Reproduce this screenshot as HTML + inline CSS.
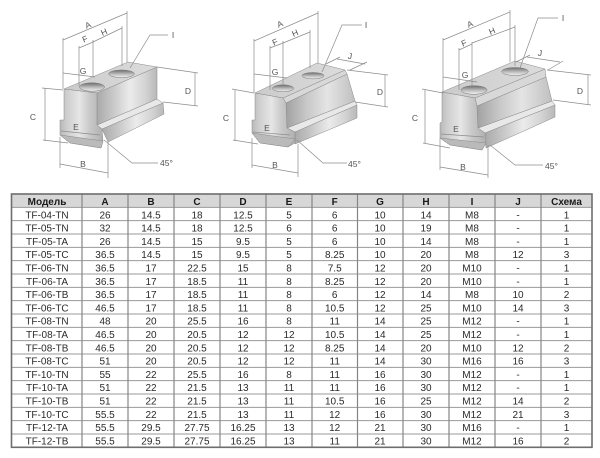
<!DOCTYPE html>
<html><head><meta charset="utf-8"><style>
html,body{margin:0;padding:0;background:#fff;}
svg{display:block;}
.d line,.d polyline{stroke:#8c8c8c;stroke-width:0.7;fill:none;}
.lb{font-family:"Liberation Sans",sans-serif;font-size:8.5px;fill:#555;}
.tt{font-family:"Liberation Sans","Noto Sans CJK SC",sans-serif;font-size:10px;fill:#2a2a2a;text-anchor:middle;}
.th{font-weight:bold;fill:#1a1a1a;}
.blk polygon{stroke:#8a8a8a;stroke-width:0.5;}
</style></head><body>
<svg width="600" height="458" viewBox="0 0 600 458" xmlns="http://www.w3.org/2000/svg">
<defs>
<linearGradient id="gTop" x1="0" y1="0" x2="1" y2="0"><stop offset="0" stop-color="#cbcbcb"/><stop offset="1" stop-color="#dcdcdc"/></linearGradient>
<linearGradient id="gEnd" x1="0" y1="0" x2="1" y2="0"><stop offset="0" stop-color="#b8b8b8"/><stop offset="0.15" stop-color="#cdcdcd"/><stop offset="0.45" stop-color="#e6e6e6"/><stop offset="0.7" stop-color="#c8c8c8"/><stop offset="1" stop-color="#b0b0b0"/></linearGradient>
<linearGradient id="gSide" x1="0" y1="0" x2="1" y2="0"><stop offset="0" stop-color="#aaaaaa"/><stop offset="0.25" stop-color="#c6c6c6"/><stop offset="0.55" stop-color="#ebebeb"/><stop offset="0.8" stop-color="#d4d4d4"/><stop offset="1" stop-color="#b8b8b8"/></linearGradient>
<linearGradient id="gRec" x1="0" y1="0" x2="1" y2="0"><stop offset="0" stop-color="#a2a2a2"/><stop offset="0.3" stop-color="#c8c8c8"/><stop offset="0.6" stop-color="#e4e4e4"/><stop offset="1" stop-color="#c0c0c0"/></linearGradient>
<linearGradient id="gHole" x1="0" y1="0" x2="0" y2="1"><stop offset="0" stop-color="#6e6e6e"/><stop offset="0.55" stop-color="#bdbdbd"/><stop offset="1" stop-color="#f2f2f2"/></linearGradient>
</defs>

<!-- ===== Drawing 1 ===== -->
<g class="blk">
<polygon points="102,129 163,103 164,114 108,142" fill="url(#gSide)"/>
<polygon points="97,125 157,99 163,103 102,129" fill="#e8e8e8"/>
<polygon points="97,93 157,67 157,99 97,125" fill="url(#gSide)"/>
<polygon points="64,89 97,93 157,67 128,62" fill="url(#gTop)"/>
<polygon points="64,89 97,93 97,125 102,129 103,141 101,148 70,143 60,135 60,120 64,120" fill="url(#gEnd)"/>
<polygon points="60,135 103,141 101,148 70,143" fill="#bababa"/>
<ellipse cx="92" cy="87" rx="12.5" ry="4.2" fill="url(#gHole)" stroke="#777" stroke-width="0.5"/>
<ellipse cx="121.5" cy="73.8" rx="12.8" ry="3.8" fill="url(#gHole)" stroke="#777" stroke-width="0.5"/>
</g>
<g class="d">
<line x1="63" y1="40" x2="127" y2="13"/><line x1="63" y1="38" x2="63" y2="89"/><line x1="127" y1="11" x2="127" y2="62"/>
<line x1="93" y1="42" x2="122" y2="28"/><line x1="122" y1="26" x2="122" y2="66"/>
<line x1="79" y1="48" x2="93" y2="42"/><line x1="79" y1="46" x2="79" y2="86"/><line x1="93" y1="40" x2="93" y2="77"/>
<line x1="63" y1="73" x2="95" y2="77"/>
<polyline points="130,68 150,35 168,35"/>
<line x1="157" y1="67" x2="198" y2="73"/><line x1="163" y1="102" x2="198" y2="106"/><line x1="195" y1="73" x2="195" y2="106"/>
<line x1="45" y1="88" x2="45" y2="141"/><line x1="42" y1="88" x2="63" y2="90"/><line x1="43" y1="140" x2="68" y2="143"/>
<line x1="61" y1="131" x2="100" y2="135"/>
<line x1="60" y1="164" x2="108" y2="173"/><line x1="60" y1="137" x2="60" y2="168"/><line x1="108" y1="142" x2="108" y2="178"/>
<polyline points="104,140 132,163 158,163"/>
</g>
<g class="lb">
<text x="88" y="28" text-anchor="middle" transform="rotate(-23 88 25)">A</text>
<text x="104" y="35" text-anchor="middle" transform="rotate(-23 104 32)">H</text>
<text x="85" y="42" text-anchor="middle" transform="rotate(-23 85 39)">F</text>
<text x="83" y="74" text-anchor="middle">G</text>
<text x="173" y="38" text-anchor="middle">I</text>
<text x="188" y="94" text-anchor="middle">D</text>
<text x="33" y="120" text-anchor="middle">C</text>
<text x="76" y="130" text-anchor="middle">E</text>
<text x="83" y="167" text-anchor="middle">B</text>
<text x="160" y="166">45°</text>
</g>

<!-- ===== Drawing 2 ===== -->
<g class="blk">
<polygon points="295,132 357,105 357,118 295,144" fill="url(#gSide)"/>
<polygon points="287,128 355,101 357,105 295,132" fill="#e8e8e8"/>
<polygon points="286,103 347,74 355,101 287,128" fill="url(#gRec)"/>
<polygon points="283,98 345,70 347,74 286,103" fill="#d8d8d8"/>
<polygon points="255,93 283,98 345,70 317,63" fill="url(#gTop)"/>
<polygon points="255,93 283,98 286,103 287,128 295,132 295,143 288,147 260,143 252,133 252,120 255,120" fill="url(#gEnd)"/>
<polygon points="252,133 295,139 288,147 260,143" fill="#bababa"/>
<ellipse cx="283" cy="88.3" rx="10.5" ry="3.5" fill="url(#gHole)" stroke="#777" stroke-width="0.5"/>
<ellipse cx="313" cy="75.7" rx="11" ry="3.2" fill="url(#gHole)" stroke="#777" stroke-width="0.5"/>
</g>
<g class="d">
<line x1="254" y1="41" x2="318" y2="13"/><line x1="254" y1="39" x2="254" y2="93"/><line x1="318" y1="11" x2="318" y2="63"/>
<line x1="283" y1="43" x2="310" y2="32"/><line x1="310" y1="30" x2="310" y2="68"/>
<line x1="270" y1="48" x2="283" y2="43"/><line x1="270" y1="46" x2="270" y2="90"/><line x1="283" y1="41" x2="283" y2="85"/>
<line x1="254" y1="74" x2="287" y2="78"/>
<polyline points="322,72 342,25 362,25"/>
<line x1="337" y1="59" x2="365" y2="64"/><line x1="326" y1="64" x2="340" y2="57"/><line x1="350" y1="70" x2="367" y2="62"/>
<line x1="347" y1="70" x2="388" y2="75"/><line x1="355" y1="102" x2="388" y2="107"/><line x1="385" y1="75" x2="385" y2="107"/>
<line x1="235" y1="90" x2="235" y2="141"/><line x1="232" y1="89" x2="254" y2="93"/><line x1="233" y1="140" x2="258" y2="144"/>
<line x1="253" y1="132" x2="290" y2="135"/>
<line x1="252" y1="165" x2="298" y2="173"/><line x1="252" y1="138" x2="252" y2="168"/><line x1="298" y1="144" x2="298" y2="177"/>
<polyline points="297,140 323,163 347,163"/>
</g>
<g class="lb">
<text x="280" y="27" text-anchor="middle" transform="rotate(-23 280 24)">A</text>
<text x="295" y="36" text-anchor="middle" transform="rotate(-23 295 33)">H</text>
<text x="275" y="45" text-anchor="middle" transform="rotate(-23 275 42)">F</text>
<text x="275" y="75" text-anchor="middle">G</text>
<text x="366" y="28" text-anchor="middle">I</text>
<text x="350" y="59" text-anchor="middle" transform="rotate(8 350 56)">J</text>
<text x="380" y="95" text-anchor="middle">D</text>
<text x="226" y="121" text-anchor="middle">C</text>
<text x="267" y="131" text-anchor="middle">E</text>
<text x="275" y="168" text-anchor="middle">B</text>
<text x="348" y="167">45°</text>
</g>

<!-- ===== Drawing 3 ===== -->
<g class="blk">
<polygon points="485,133 555,105 555,117 486,148" fill="url(#gSide)"/>
<polygon points="478,128 552,101 555,105 485,133" fill="#e8e8e8"/>
<polygon points="477,106 546,77 552,101 478,128" fill="url(#gRec)"/>
<polygon points="475,98 545,69 546,77 477,106" fill="#d8d8d8"/>
<polygon points="442,92 475,98 545,69 515,61" fill="url(#gTop)"/>
<polygon points="442,92 475,98 477,106 478,128 485,133 486,143 482,150 450,145 440,138 440,123 442,122" fill="url(#gEnd)"/>
<polygon points="440,138 486,143 482,150 450,145" fill="#bababa"/>
<ellipse cx="474" cy="90" rx="13" ry="4.3" fill="url(#gHole)" stroke="#777" stroke-width="0.5"/>
<ellipse cx="515" cy="71.5" rx="13.3" ry="4" fill="url(#gHole)" stroke="#777" stroke-width="0.5"/>
</g>
<g class="d">
<line x1="443" y1="40" x2="510" y2="12"/><line x1="443" y1="38" x2="443" y2="92"/><line x1="510" y1="10" x2="510" y2="62"/>
<line x1="472" y1="43" x2="515" y2="27"/><line x1="515" y1="25" x2="515" y2="66"/>
<line x1="459" y1="50" x2="472" y2="44"/><line x1="459" y1="48" x2="459" y2="90"/><line x1="472" y1="42" x2="472" y2="86"/>
<line x1="443" y1="77" x2="477" y2="82"/>
<polyline points="520,68 538,18 558,18"/>
<line x1="527" y1="57" x2="560" y2="62"/><line x1="516" y1="62" x2="530" y2="55"/><line x1="548" y1="70" x2="563" y2="61"/>
<line x1="547" y1="70" x2="591" y2="75"/><line x1="553" y1="100" x2="591" y2="105"/><line x1="588" y1="75" x2="588" y2="105"/>
<line x1="425" y1="90" x2="425" y2="143"/><line x1="422" y1="89" x2="443" y2="93"/><line x1="423" y1="143" x2="450" y2="148"/>
<line x1="441" y1="134" x2="484" y2="137"/>
<line x1="440" y1="167" x2="488" y2="175"/><line x1="440" y1="138" x2="440" y2="170"/><line x1="488" y1="145" x2="488" y2="178"/>
<polyline points="490,145 515,165 543,165"/>
</g>
<g class="lb">
<text x="470" y="27" text-anchor="middle" transform="rotate(-23 470 24)">A</text>
<text x="492" y="34" text-anchor="middle" transform="rotate(-23 492 31)">H</text>
<text x="464" y="46" text-anchor="middle" transform="rotate(-23 464 43)">F</text>
<text x="465" y="78" text-anchor="middle">G</text>
<text x="563" y="21" text-anchor="middle">I</text>
<text x="540" y="56" text-anchor="middle" transform="rotate(8 540 53)">J</text>
<text x="580" y="94" text-anchor="middle">D</text>
<text x="415" y="121" text-anchor="middle">C</text>
<text x="456" y="132" text-anchor="middle">E</text>
<text x="463" y="170" text-anchor="middle">B</text>
<text x="545" y="169">45°</text>
</g>

<!-- ===== Table ===== -->
<rect x="11.5" y="194" width="580.5" height="13.33" fill="#d7d7d7"/>
<g stroke="#9a9a9a" stroke-width="1">
<line x1="11.5" y1="207.33" x2="592" y2="207.33"/><line x1="11.5" y1="220.67" x2="592" y2="220.67"/>
<line x1="11.5" y1="234" x2="592" y2="234"/><line x1="11.5" y1="247.33" x2="592" y2="247.33"/>
<line x1="11.5" y1="260.67" x2="592" y2="260.67"/><line x1="11.5" y1="274" x2="592" y2="274"/>
<line x1="11.5" y1="287.33" x2="592" y2="287.33"/><line x1="11.5" y1="300.67" x2="592" y2="300.67"/>
<line x1="11.5" y1="314" x2="592" y2="314"/><line x1="11.5" y1="327.33" x2="592" y2="327.33"/>
<line x1="11.5" y1="340.67" x2="592" y2="340.67"/><line x1="11.5" y1="354" x2="592" y2="354"/>
<line x1="11.5" y1="367.33" x2="592" y2="367.33"/><line x1="11.5" y1="380.67" x2="592" y2="380.67"/>
<line x1="11.5" y1="394" x2="592" y2="394"/><line x1="11.5" y1="407.33" x2="592" y2="407.33"/>
<line x1="11.5" y1="420.67" x2="592" y2="420.67"/><line x1="11.5" y1="434" x2="592" y2="434"/>
</g>
<g stroke="#858585" stroke-width="1.2">
<line x1="82" y1="194" x2="82" y2="447.3"/><line x1="128" y1="194" x2="128" y2="447.3"/>
<line x1="174" y1="194" x2="174" y2="447.3"/><line x1="220" y1="194" x2="220" y2="447.3"/>
<line x1="266" y1="194" x2="266" y2="447.3"/><line x1="312" y1="194" x2="312" y2="447.3"/>
<line x1="357.5" y1="194" x2="357.5" y2="447.3"/><line x1="403" y1="194" x2="403" y2="447.3"/>
<line x1="449" y1="194" x2="449" y2="447.3"/><line x1="495" y1="194" x2="495" y2="447.3"/>
<line x1="541" y1="194" x2="541" y2="447.3"/>
</g>
<rect x="11.5" y="194" width="580.5" height="253.3" fill="none" stroke="#6e6e6e" stroke-width="1.6"/>

<g class="tt th" transform="translate(0,205)">
<text x="47">Модель</text><text x="105">A</text><text x="151">B</text><text x="197">C</text><text x="243">D</text><text x="289">E</text><text x="334.7">F</text><text x="380">G</text><text x="426">H</text><text x="472">I</text><text x="518">J</text><text x="566.5">Схема</text>
</g>
<g class="tt" transform="translate(0,218.3)"><text x="47">TF-04-TN</text><text x="105">26</text><text x="151">14.5</text><text x="197">18</text><text x="243">12.5</text><text x="289">5</text><text x="334.7">6</text><text x="380">10</text><text x="426">14</text><text x="472">M8</text><text x="518">-</text><text x="566.5">1</text></g>
<g class="tt" transform="translate(0,231.6)"><text x="47">TF-05-TN</text><text x="105">32</text><text x="151">14.5</text><text x="197">18</text><text x="243">12.5</text><text x="289">6</text><text x="334.7">6</text><text x="380">10</text><text x="426">19</text><text x="472">M8</text><text x="518">-</text><text x="566.5">1</text></g>
<g class="tt" transform="translate(0,244.9)"><text x="47">TF-05-TA</text><text x="105">26</text><text x="151">14.5</text><text x="197">15</text><text x="243">9.5</text><text x="289">5</text><text x="334.7">6</text><text x="380">10</text><text x="426">14</text><text x="472">M8</text><text x="518">-</text><text x="566.5">1</text></g>
<g class="tt" transform="translate(0,258.2)"><text x="47">TF-05-TC</text><text x="105">36.5</text><text x="151">14.5</text><text x="197">15</text><text x="243">9.5</text><text x="289">5</text><text x="334.7">8.25</text><text x="380">10</text><text x="426">20</text><text x="472">M8</text><text x="518">12</text><text x="566.5">3</text></g>
<g class="tt" transform="translate(0,271.5)"><text x="47">TF-06-TN</text><text x="105">36.5</text><text x="151">17</text><text x="197">22.5</text><text x="243">15</text><text x="289">8</text><text x="334.7">7.5</text><text x="380">12</text><text x="426">20</text><text x="472">M10</text><text x="518">-</text><text x="566.5">1</text></g>
<g class="tt" transform="translate(0,284.8)"><text x="47">TF-06-TA</text><text x="105">36.5</text><text x="151">17</text><text x="197">18.5</text><text x="243">11</text><text x="289">8</text><text x="334.7">8.25</text><text x="380">12</text><text x="426">20</text><text x="472">M10</text><text x="518">-</text><text x="566.5">1</text></g>
<g class="tt" transform="translate(0,298.1)"><text x="47">TF-06-TB</text><text x="105">36.5</text><text x="151">17</text><text x="197">18.5</text><text x="243">11</text><text x="289">8</text><text x="334.7">6</text><text x="380">12</text><text x="426">14</text><text x="472">M8</text><text x="518">10</text><text x="566.5">2</text></g>
<g class="tt" transform="translate(0,311.4)"><text x="47">TF-06-TC</text><text x="105">46.5</text><text x="151">17</text><text x="197">18.5</text><text x="243">11</text><text x="289">8</text><text x="334.7">10.5</text><text x="380">12</text><text x="426">25</text><text x="472">M10</text><text x="518">14</text><text x="566.5">3</text></g>
<g class="tt" transform="translate(0,324.7)"><text x="47">TF-08-TN</text><text x="105">48</text><text x="151">20</text><text x="197">25.5</text><text x="243">16</text><text x="289">8</text><text x="334.7">11</text><text x="380">14</text><text x="426">25</text><text x="472">M12</text><text x="518">-</text><text x="566.5">1</text></g>
<g class="tt" transform="translate(0,338)"><text x="47">TF-08-TA</text><text x="105">46.5</text><text x="151">20</text><text x="197">20.5</text><text x="243">12</text><text x="289">12</text><text x="334.7">10.5</text><text x="380">14</text><text x="426">25</text><text x="472">M12</text><text x="518">-</text><text x="566.5">1</text></g>
<g class="tt" transform="translate(0,351.3)"><text x="47">TF-08-TB</text><text x="105">46.5</text><text x="151">20</text><text x="197">20.5</text><text x="243">12</text><text x="289">12</text><text x="334.7">8.25</text><text x="380">14</text><text x="426">20</text><text x="472">M10</text><text x="518">12</text><text x="566.5">2</text></g>
<g class="tt" transform="translate(0,364.6)"><text x="47">TF-08-TC</text><text x="105">51</text><text x="151">20</text><text x="197">20.5</text><text x="243">12</text><text x="289">12</text><text x="334.7">11</text><text x="380">14</text><text x="426">30</text><text x="472">M16</text><text x="518">16</text><text x="566.5">3</text></g>
<g class="tt" transform="translate(0,377.9)"><text x="47">TF-10-TN</text><text x="105">55</text><text x="151">22</text><text x="197">25.5</text><text x="243">16</text><text x="289">8</text><text x="334.7">11</text><text x="380">16</text><text x="426">30</text><text x="472">M12</text><text x="518">-</text><text x="566.5">1</text></g>
<g class="tt" transform="translate(0,391.2)"><text x="47">TF-10-TA</text><text x="105">51</text><text x="151">22</text><text x="197">21.5</text><text x="243">13</text><text x="289">11</text><text x="334.7">11</text><text x="380">16</text><text x="426">30</text><text x="472">M12</text><text x="518">-</text><text x="566.5">1</text></g>
<g class="tt" transform="translate(0,404.5)"><text x="47">TF-10-TB</text><text x="105">51</text><text x="151">22</text><text x="197">21.5</text><text x="243">13</text><text x="289">11</text><text x="334.7">10.5</text><text x="380">16</text><text x="426">25</text><text x="472">M12</text><text x="518">14</text><text x="566.5">2</text></g>
<g class="tt" transform="translate(0,417.8)"><text x="47">TF-10-TC</text><text x="105">55.5</text><text x="151">22</text><text x="197">21.5</text><text x="243">13</text><text x="289">11</text><text x="334.7">12</text><text x="380">16</text><text x="426">30</text><text x="472">M12</text><text x="518">21</text><text x="566.5">3</text></g>
<g class="tt" transform="translate(0,431.1)"><text x="47">TF-12-TA</text><text x="105">55.5</text><text x="151">29.5</text><text x="197">27.75</text><text x="243">16.25</text><text x="289">13</text><text x="334.7">12</text><text x="380">21</text><text x="426">30</text><text x="472">M16</text><text x="518">-</text><text x="566.5">1</text></g>
<g class="tt" transform="translate(0,444.4)"><text x="47">TF-12-TB</text><text x="105">55.5</text><text x="151">29.5</text><text x="197">27.75</text><text x="243">16.25</text><text x="289">13</text><text x="334.7">11</text><text x="380">21</text><text x="426">30</text><text x="472">M12</text><text x="518">16</text><text x="566.5">2</text></g>
</svg>
</body></html>
